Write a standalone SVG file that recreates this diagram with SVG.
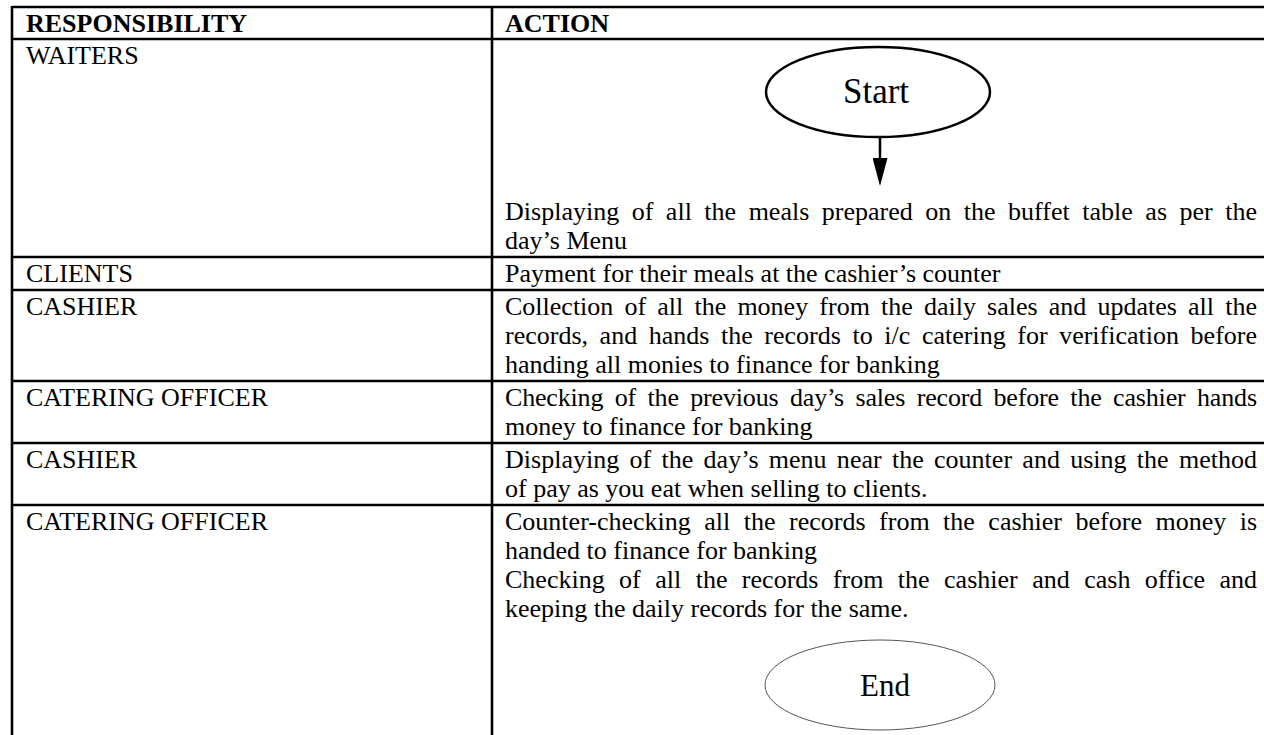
<svg xmlns="http://www.w3.org/2000/svg" width="1264" height="735" viewBox="0 0 1264 735">
<style>
.t{font-family:"Liberation Serif","Times New Roman",serif;font-size:26px;fill:#000}
.h{font-family:"Liberation Serif","Times New Roman",serif;font-size:26px;font-weight:bold;fill:#000}
.grid{stroke:#000;stroke-width:2.6;fill:none}
.term{font-family:"Liberation Serif","Times New Roman",serif;fill:#000;text-anchor:middle}
</style>
<defs>
<marker id="ah" markerWidth="28" markerHeight="15" refX="0" refY="7.5" orient="auto" markerUnits="userSpaceOnUse" viewBox="0 0 28 15">
<path d="M0,0 L28,7.5 L0,15 Z" fill="#000"/>
</marker>
</defs>
<rect width="1264" height="735" fill="#fff"/>
<g id="table" class="grid">
<line x1="12" y1="7" x2="1264" y2="7"/>
<line x1="12" y1="39" x2="1264" y2="39"/>
<line x1="12" y1="257" x2="1264" y2="257"/>
<line x1="12" y1="290" x2="1264" y2="290"/>
<line x1="12" y1="381" x2="1264" y2="381"/>
<line x1="12" y1="443" x2="1264" y2="443"/>
<line x1="12" y1="505" x2="1264" y2="505"/>
<line x1="12" y1="6" x2="12" y2="735"/>
<line x1="492" y1="6" x2="492" y2="735"/>
</g>
<g id="header">
<text class="h" x="26" y="32">RESPONSIBILITY</text>
<text class="h" x="505" y="32">ACTION</text>
</g>
<g id="row-waiters">
<text class="t" x="26" y="64">WAITERS</text>
<text class="t" x="505" y="220" word-spacing="5.98" textLength="752" lengthAdjust="spacing">Displaying of all the meals prepared on the buffet table as per the</text>
<text class="t" x="505" y="249">day’s Menu</text>
</g>
<g id="start">
<ellipse cx="878" cy="92" rx="112" ry="45" fill="#fff" stroke="#000" stroke-width="2.5"/>
<text class="term" x="876" y="103" font-size="35">Start</text>
</g>
<g id="row-clients">
<text class="t" x="26" y="282">CLIENTS</text>
<text class="t" x="505" y="282">Payment for their meals at the cashier’s counter</text>
</g>
<g id="row-cashier-1">
<text class="t" x="26" y="315">CASHIER</text>
<text class="t" x="505" y="315" word-spacing="4.65" textLength="752" lengthAdjust="spacing">Collection of all the money from the daily sales and updates all the</text>
<text class="t" x="505" y="344" word-spacing="5.1" textLength="752" lengthAdjust="spacing">records, and hands the records to i/c catering for verification before</text>
<text class="t" x="505" y="373">handing all monies to finance for banking</text>
</g>
<g id="row-catering-1">
<text class="t" x="26" y="406">CATERING OFFICER</text>
<text class="t" x="505" y="406" word-spacing="5.16" textLength="752" lengthAdjust="spacing">Checking of the previous day’s sales record before the cashier hands</text>
<text class="t" x="505" y="435">money to finance for banking</text>
</g>
<g id="row-cashier-2">
<text class="t" x="26" y="468">CASHIER</text>
<text class="t" x="505" y="468" word-spacing="3.7" textLength="752" lengthAdjust="spacing">Displaying of the day’s menu near the counter and using the method</text>
<text class="t" x="505" y="497">of pay as you eat when selling to clients.</text>
</g>
<g id="row-catering-2">
<text class="t" x="26" y="530">CATERING OFFICER</text>
<text class="t" x="505" y="530" word-spacing="6.94" textLength="752" lengthAdjust="spacing">Counter-checking all the records from the cashier before money is</text>
<text class="t" x="505" y="559">handed to finance for banking</text>
<text class="t" x="505" y="588" word-spacing="7.9" textLength="752" lengthAdjust="spacing">Checking of all the records from the cashier and cash office and</text>
<text class="t" x="505" y="617">keeping the daily records for the same.</text>
</g>
<g id="end">
<ellipse cx="880" cy="685" rx="115" ry="45" fill="#fff" stroke="#555" stroke-width="1"/>
<text class="term" x="885" y="696" font-size="31">End</text>
</g>
<g id="connectors">
<line x1="880" y1="137" x2="880" y2="158" stroke="#000" stroke-width="2.5" marker-end="url(#ah)"/>
</g>
</svg>
